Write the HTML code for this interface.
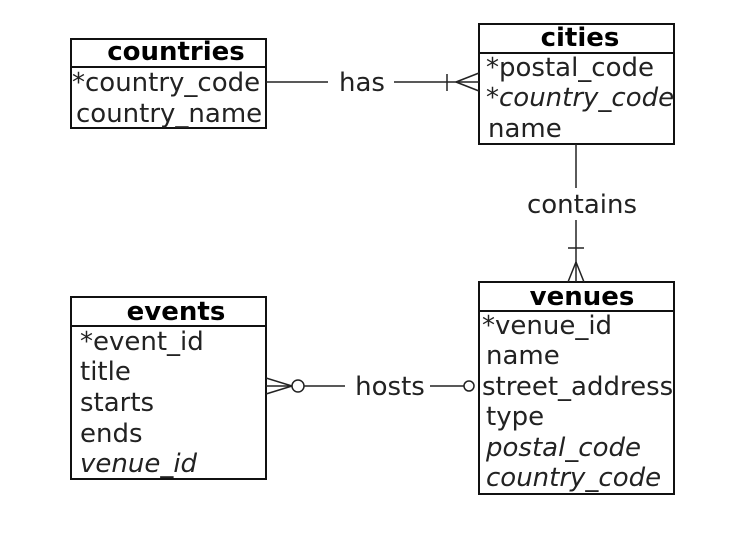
<!DOCTYPE html>
<html><head><style>
body{margin:0;background:#fff;}
svg text{font-family:"DejaVu Sans","Liberation Sans",sans-serif;font-size:26px;fill:#222;}
.b{font-weight:bold;fill:#000;}
.i{font-style:italic;}
</style></head><body>
<svg width="732" height="534" viewBox="0 0 732 534" xmlns="http://www.w3.org/2000/svg">
<g fill="none" stroke="#111" stroke-width="2">
<rect x="71" y="39" width="195" height="89"/><line x1="71" y1="67" x2="266" y2="67"/>
<rect x="479" y="24" width="195" height="120"/><line x1="479" y1="53" x2="674" y2="53"/>
<rect x="71" y="297" width="195" height="182"/><line x1="71" y1="326" x2="266" y2="326"/>
<rect x="479" y="282" width="195" height="212"/><line x1="479" y1="311" x2="674" y2="311"/>
</g>
<g fill="none" stroke="#222" stroke-width="1.5">
<line x1="266" y1="82" x2="328" y2="82"/><line x1="394" y1="82" x2="479" y2="82"/>
<line x1="447" y1="74" x2="447" y2="91"/>
<line x1="456" y1="82" x2="479" y2="73"/><line x1="456" y1="82" x2="479" y2="91"/>
<line x1="576" y1="144" x2="576" y2="188"/><line x1="576" y1="220" x2="576" y2="282"/>
<line x1="568" y1="248" x2="584" y2="248"/>
<line x1="576" y1="262" x2="568" y2="282"/><line x1="576" y1="262" x2="584" y2="282"/>
<line x1="266" y1="378" x2="292" y2="386"/><line x1="266" y1="394" x2="292" y2="386"/><line x1="266" y1="386" x2="292" y2="386"/>
<circle cx="298" cy="386" r="6" fill="#fff"/>
<line x1="304" y1="386" x2="345" y2="386"/><line x1="430" y1="386" x2="464" y2="386"/>
<circle cx="469" cy="386" r="5" fill="#fff"/>
</g>
<text class="b" x="176" y="60" text-anchor="middle">countries</text>
<text x="72" y="91">*country_code</text>
<text x="76" y="122">country_name</text>
<text class="b" x="580" y="46" text-anchor="middle">cities</text>
<text x="486" y="76">*postal_code</text>
<text class="i" x="486" y="106">*country_code</text>
<text x="488" y="137">name</text>
<text x="362" y="91" text-anchor="middle">has</text>
<text x="582" y="213" text-anchor="middle">contains</text>
<text class="b" x="176" y="320" text-anchor="middle">events</text>
<text x="80" y="350">*event_id</text>
<text x="80" y="380">title</text>
<text x="80" y="411">starts</text>
<text x="80" y="442">ends</text>
<text class="i" x="80" y="472">venue_id</text>
<text class="b" x="582" y="305" text-anchor="middle">venues</text>
<text x="482" y="334">*venue_id</text>
<text x="486" y="364">name</text>
<text x="482" y="395">street_address</text>
<text x="486" y="425">type</text>
<text class="i" x="486" y="456">postal_code</text>
<text class="i" x="486" y="486">country_code</text>
<text x="390" y="395" text-anchor="middle">hosts</text>
</svg>
</body></html>
